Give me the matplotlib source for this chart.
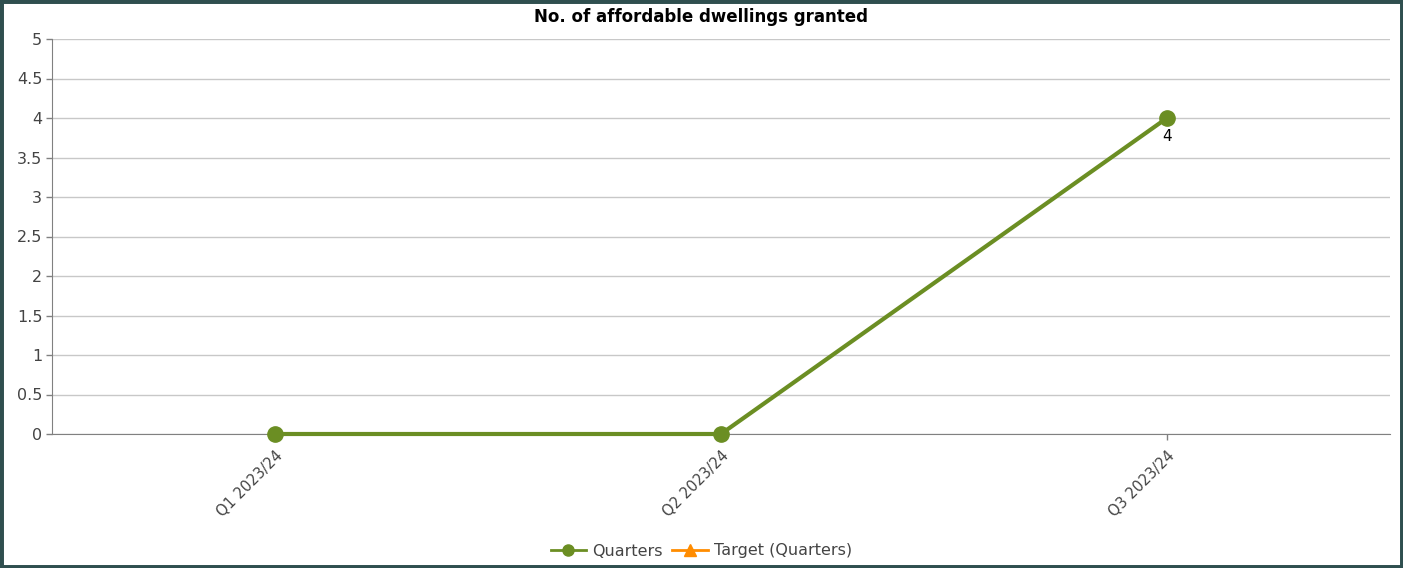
import matplotlib
matplotlib.use("Agg")
import matplotlib.pyplot as plt
from matplotlib.patches import Rectangle
from matplotlib.lines import Line2D

categories = ["Q1 2023/24", "Q2 2023/24", "Q3 2023/24"]
quarters = [0, 0, 4]
target = []  # no target values shown
yticks = [0, 0.5, 1, 1.5, 2, 2.5, 3, 3.5, 4, 4.5, 5]

plt.rcParams['font.family'] = ['DejaVu Sans']

fig = plt.figure(figsize=(14.03, 5.68), dpi=100)
ax = fig.add_axes([52/1403, 1 - 434/568, (1390-52)/1403, (434-39)/568])

green = "#6B8E23"
orange = "#FF8C00"
x = list(range(len(categories)))
ax.plot(x, quarters, color=green, lw=3, marker='o', ms=11, zorder=3, clip_on=False)
ax.plot(x[:len(target)], target, color=orange, lw=2, marker='^', ms=9)

ax.annotate(str(quarters[2]), (x[2], quarters[2]), xytext=(0, -8), textcoords='offset points',
            ha='center', va='top', fontsize=11, color='black')

ax.set_xlim(-0.5, 2.5)
ax.set_ylim(0, 5)
ax.set_yticks(yticks)
ax.set_yticklabels([f"{v:g}" for v in yticks])
ax.set_xticks(x)
ax.set_xticklabels(categories, rotation=45, ha='right', rotation_mode='anchor')
ax.tick_params(axis='both', colors='#808080', labelcolor='#444444', length=4, width=1)
ax.tick_params(axis='y', labelsize=11.5, pad=3)
ax.tick_params(axis='x', labelsize=10.5, pad=6)
ax.grid(axis='y', color='#C8C8C8', lw=1)
ax.set_axisbelow(True)
for s in ['top', 'right']:
    ax.spines[s].set_visible(False)
for s in ['left', 'bottom']:
    ax.spines[s].set_color('#808080')

fig.text(0.5, 1 - 17/568, "No. of affordable dwellings granted", ha='center', va='center',
         fontsize=12, fontweight='bold', color='black')

handles = [Line2D([], [], color=green, lw=2, marker='o', ms=8),
           Line2D([], [], color=orange, lw=2, marker='^', ms=8)]
leg = fig.legend(handles, ["Quarters", "Target (Quarters)"], loc='center',
                 bbox_to_anchor=(0.5, 1 - 551/568), ncol=2, frameon=False,
                 fontsize=11.5, handlelength=2.2, columnspacing=0.6, handletextpad=0.4)
for t in leg.get_texts():
    t.set_color('#444444')

fig.patches.append(Rectangle((0, 0), 1, 1, transform=fig.transFigure, fill=False,
                             edgecolor='#2F4F4F', lw=5, zorder=10))

fig.savefig("out.png", dpi=100)
